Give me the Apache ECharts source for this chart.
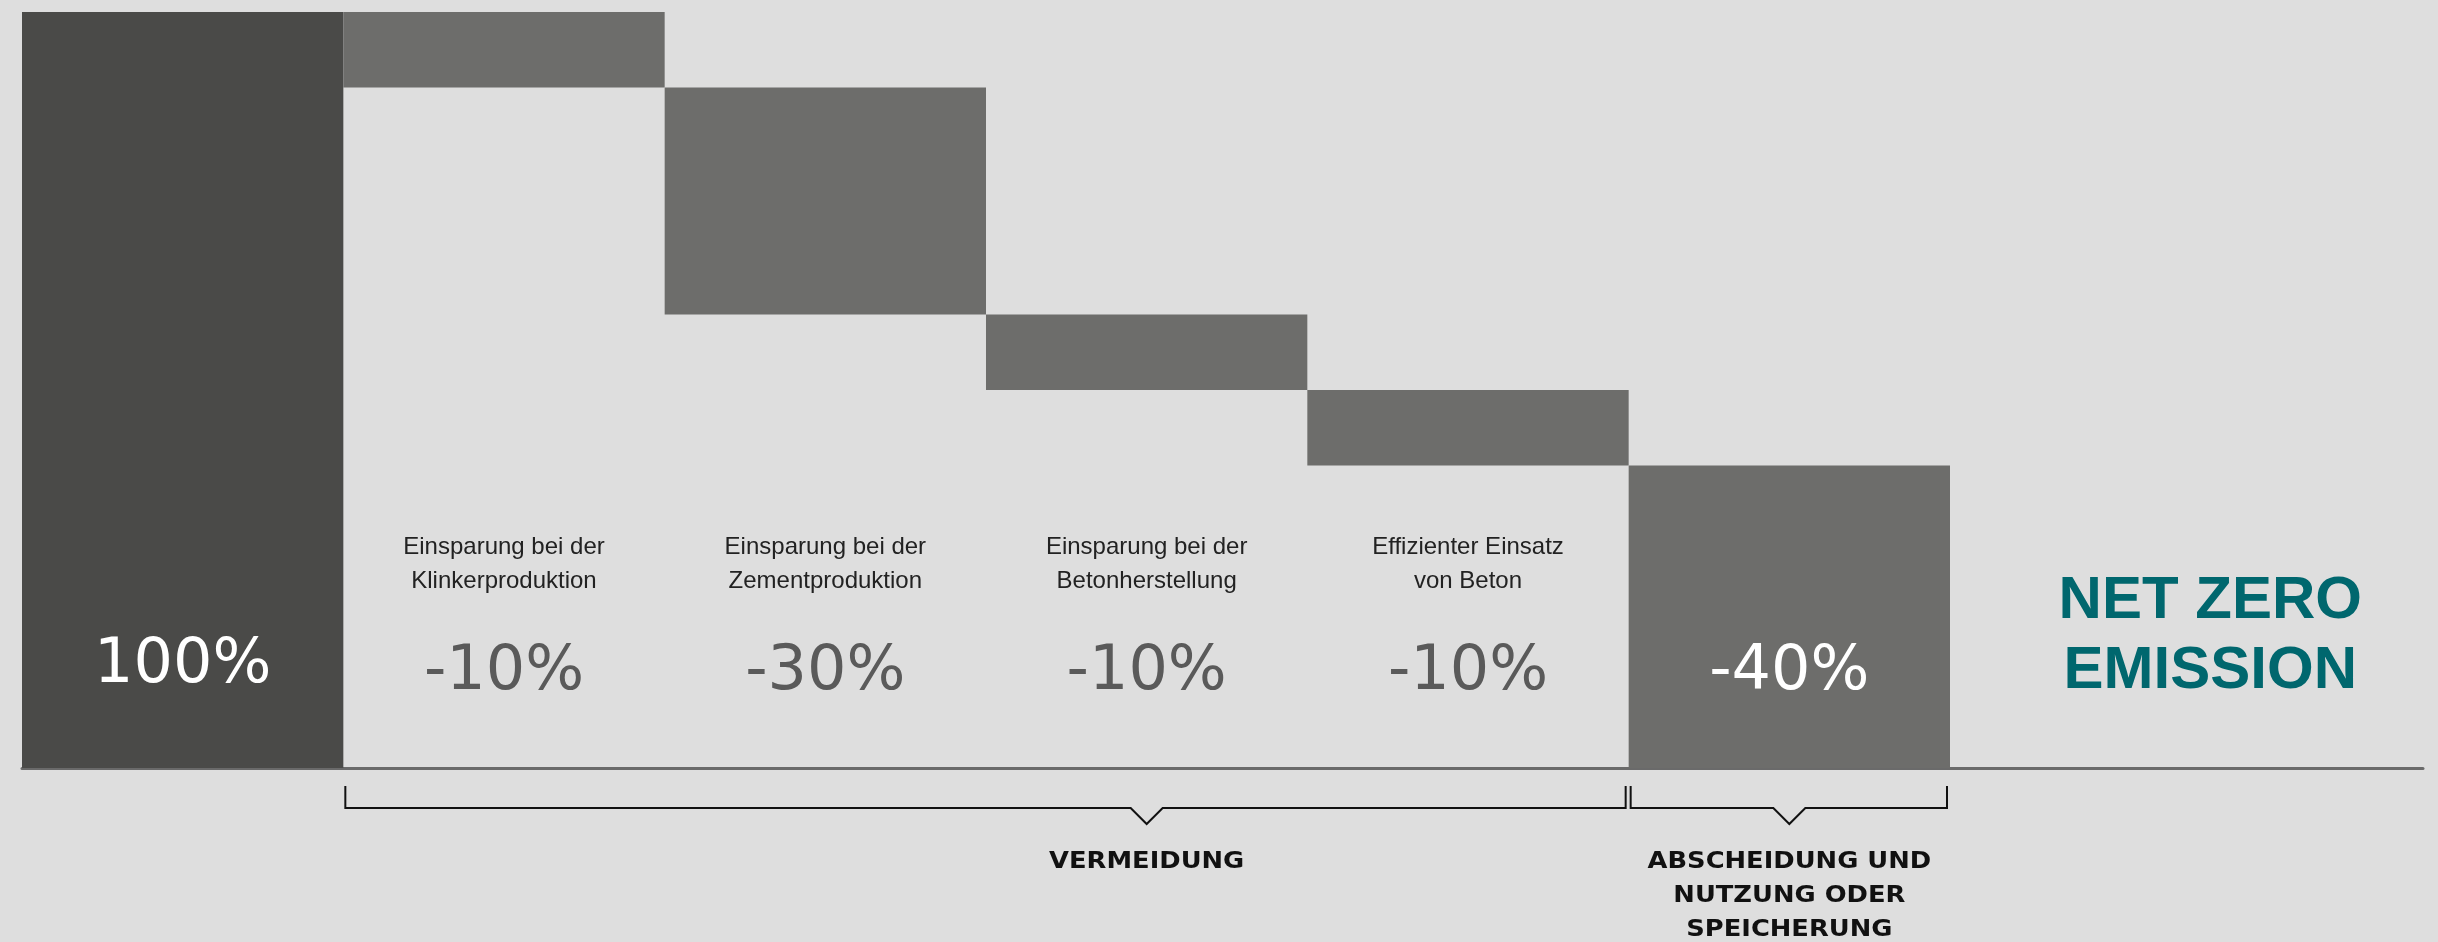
<!DOCTYPE html>
<html>
<head>
<meta charset="utf-8">
<script src="https://cdn.jsdelivr.net/npm/echarts@6/dist/echarts.min.js"></script>
<style>
html,body{margin:0;padding:0;background:#dedede;}
#chart{width:2438px;height:942px;}
</style>
</head>
<body>
<div id="chart"></div>
<script>
// ---- data ----
const categories = [
  '',
  'Einsparung bei der\nKlinkerproduktion',
  'Einsparung bei der\nZementproduktion',
  'Einsparung bei der\nBetonherstellung',
  'Effizienter Einsatz\nvon Beton',
  ''
];
const changes = [100, -10, -30, -10, -10, -40];
const valueLabels = ['100%', '-10%', '-30%', '-10%', '-10%', '-40%'];
const groupLabels = ['VERMEIDUNG', 'ABSCHEIDUNG UND\nNUTZUNG ODER\nSPEICHERUNG'];
const groupStart = [1, 5];
const groupEnd = [5, 6];
const groupPointer = [3.5, 5.5];
const resultLabel = 'NET ZERO\nEMISSION';
const resultIndex = 6;

// ---- build waterfall ranges ----
const waterfall = [];
let total = 0;
changes.forEach((c, i) => {
  const next = total + c;
  waterfall.push([i, Math.min(total, next), Math.max(total, next)]);
  total = next;
});
const groupData = groupLabels.map((_, k) => [groupStart[k], groupEnd[k], groupPointer[k], k]);

const chart = echarts.init(document.getElementById('chart'), null, {renderer: 'canvas'});
const AXIS_MAX = 7.472;

const option = {
  backgroundColor: '#dedede',
  animation: false,
  grid: {left: 22, right: 15, top: 12, bottom: 174},
  xAxis: {
    type: 'value', min: 0, max: AXIS_MAX,
    axisLine: {show: true, onZero: false, lineStyle: {color: '#6a6a6a', width: 3}},
    axisTick: {show: false}, axisLabel: {show: false}, splitLine: {show: false}
  },
  yAxis: {
    type: 'value', min: 0, max: 100,
    axisLine: {show: false}, axisTick: {show: false}, axisLabel: {show: false}, splitLine: {show: false}
  },
  series: [
    {
      type: 'custom',
      name: 'waterfall',
      clip: false,
      z: 3,
      encode: {x: 0, y: [1, 2]},
      data: waterfall,
      renderItem: function (params, api) {
        const i = api.value(0);
        const lo = api.value(1), hi = api.value(2);
        const pTop = api.coord([i, hi]);
        const pBot = api.coord([i + 1, lo]);
        const base = api.coord([i, 0])[1];
        const x0 = pTop[0], x1 = pBot[0];
        const cx = (x0 + x1) / 2;
        const inside = lo === 0;
        const children = [{
          type: 'rect',
          shape: {x: x0, y: pTop[1], width: x1 - x0, height: pBot[1] - pTop[1]},
          style: {fill: i === 0 ? '#4a4a48' : '#6d6d6b'}
        }];
        if (categories[i]) {
          children.push({
            type: 'text',
            style: {
              text: categories[i], x: cx, y: base - 204,
              align: 'center', verticalAlign: 'middle',
              fontFamily: 'Liberation Sans', fontSize: 24, lineHeight: 34,
              fill: '#222222'
            }
          });
        }
        children.push({
          type: 'text',
          style: {
            text: valueLabels[i], x: cx, y: base - (i === 0 ? 102 : 95),
            align: 'center', verticalAlign: 'middle',
            fontFamily: 'DejaVu Sans', fontSize: 62,
            fill: inside ? '#ffffff' : '#5a5a5a'
          }
        });
        return {type: 'group', children: children};
      }
    },
    {
      type: 'custom',
      name: 'groups',
      clip: false,
      z: 3,
      encode: {x: [0, 1]},
      data: groupData,
      renderItem: function (params, api) {
        const s = api.value(0), e = api.value(1), p = api.value(2), k = api.value(3);
        const b = api.coord([s, 0])[1];
        const xs = api.coord([s, 0])[0] + 2;
        const xe = api.coord([e, 0])[0] - 3;
        const ax = api.coord([p, 0])[0];
        return {
          type: 'group',
          children: [
            {
              type: 'polyline',
              shape: {points: [[xs, b + 18], [xs, b + 40], [ax - 16, b + 40], [ax, b + 56], [ax + 16, b + 40], [xe, b + 40], [xe, b + 18]]},
              style: {stroke: '#111111', lineWidth: 2, fill: null}
            },
            {
              type: 'text',
              x: ax, y: b + 77,
              scaleX: 1.12, scaleY: 1,
              style: {
                text: groupLabels[k], x: 0, y: 0,
                align: 'center', verticalAlign: 'top',
                fontFamily: 'DejaVu Sans', fontWeight: 'bold', fontSize: 23, lineHeight: 34,
                fill: '#111111'
              }
            }
          ]
        };
      }
    },
    {
      type: 'custom',
      name: 'result',
      clip: false,
      z: 3,
      encode: {x: 0},
      data: [[resultIndex]],
      renderItem: function (params, api) {
        const idx = api.value(0);
        const p = api.coord([idx + 0.81, 0]);
        return {
          type: 'text',
          style: {
            text: resultLabel, x: p[0], y: p[1] - 132,
            align: 'center', verticalAlign: 'middle',
            fontFamily: 'Liberation Sans', fontWeight: 'bold', fontSize: 60, lineHeight: 70,
            fill: '#00676e'
          }
        };
      }
    }
  ]
};
chart.setOption(option);
</script>
</body>
</html>
